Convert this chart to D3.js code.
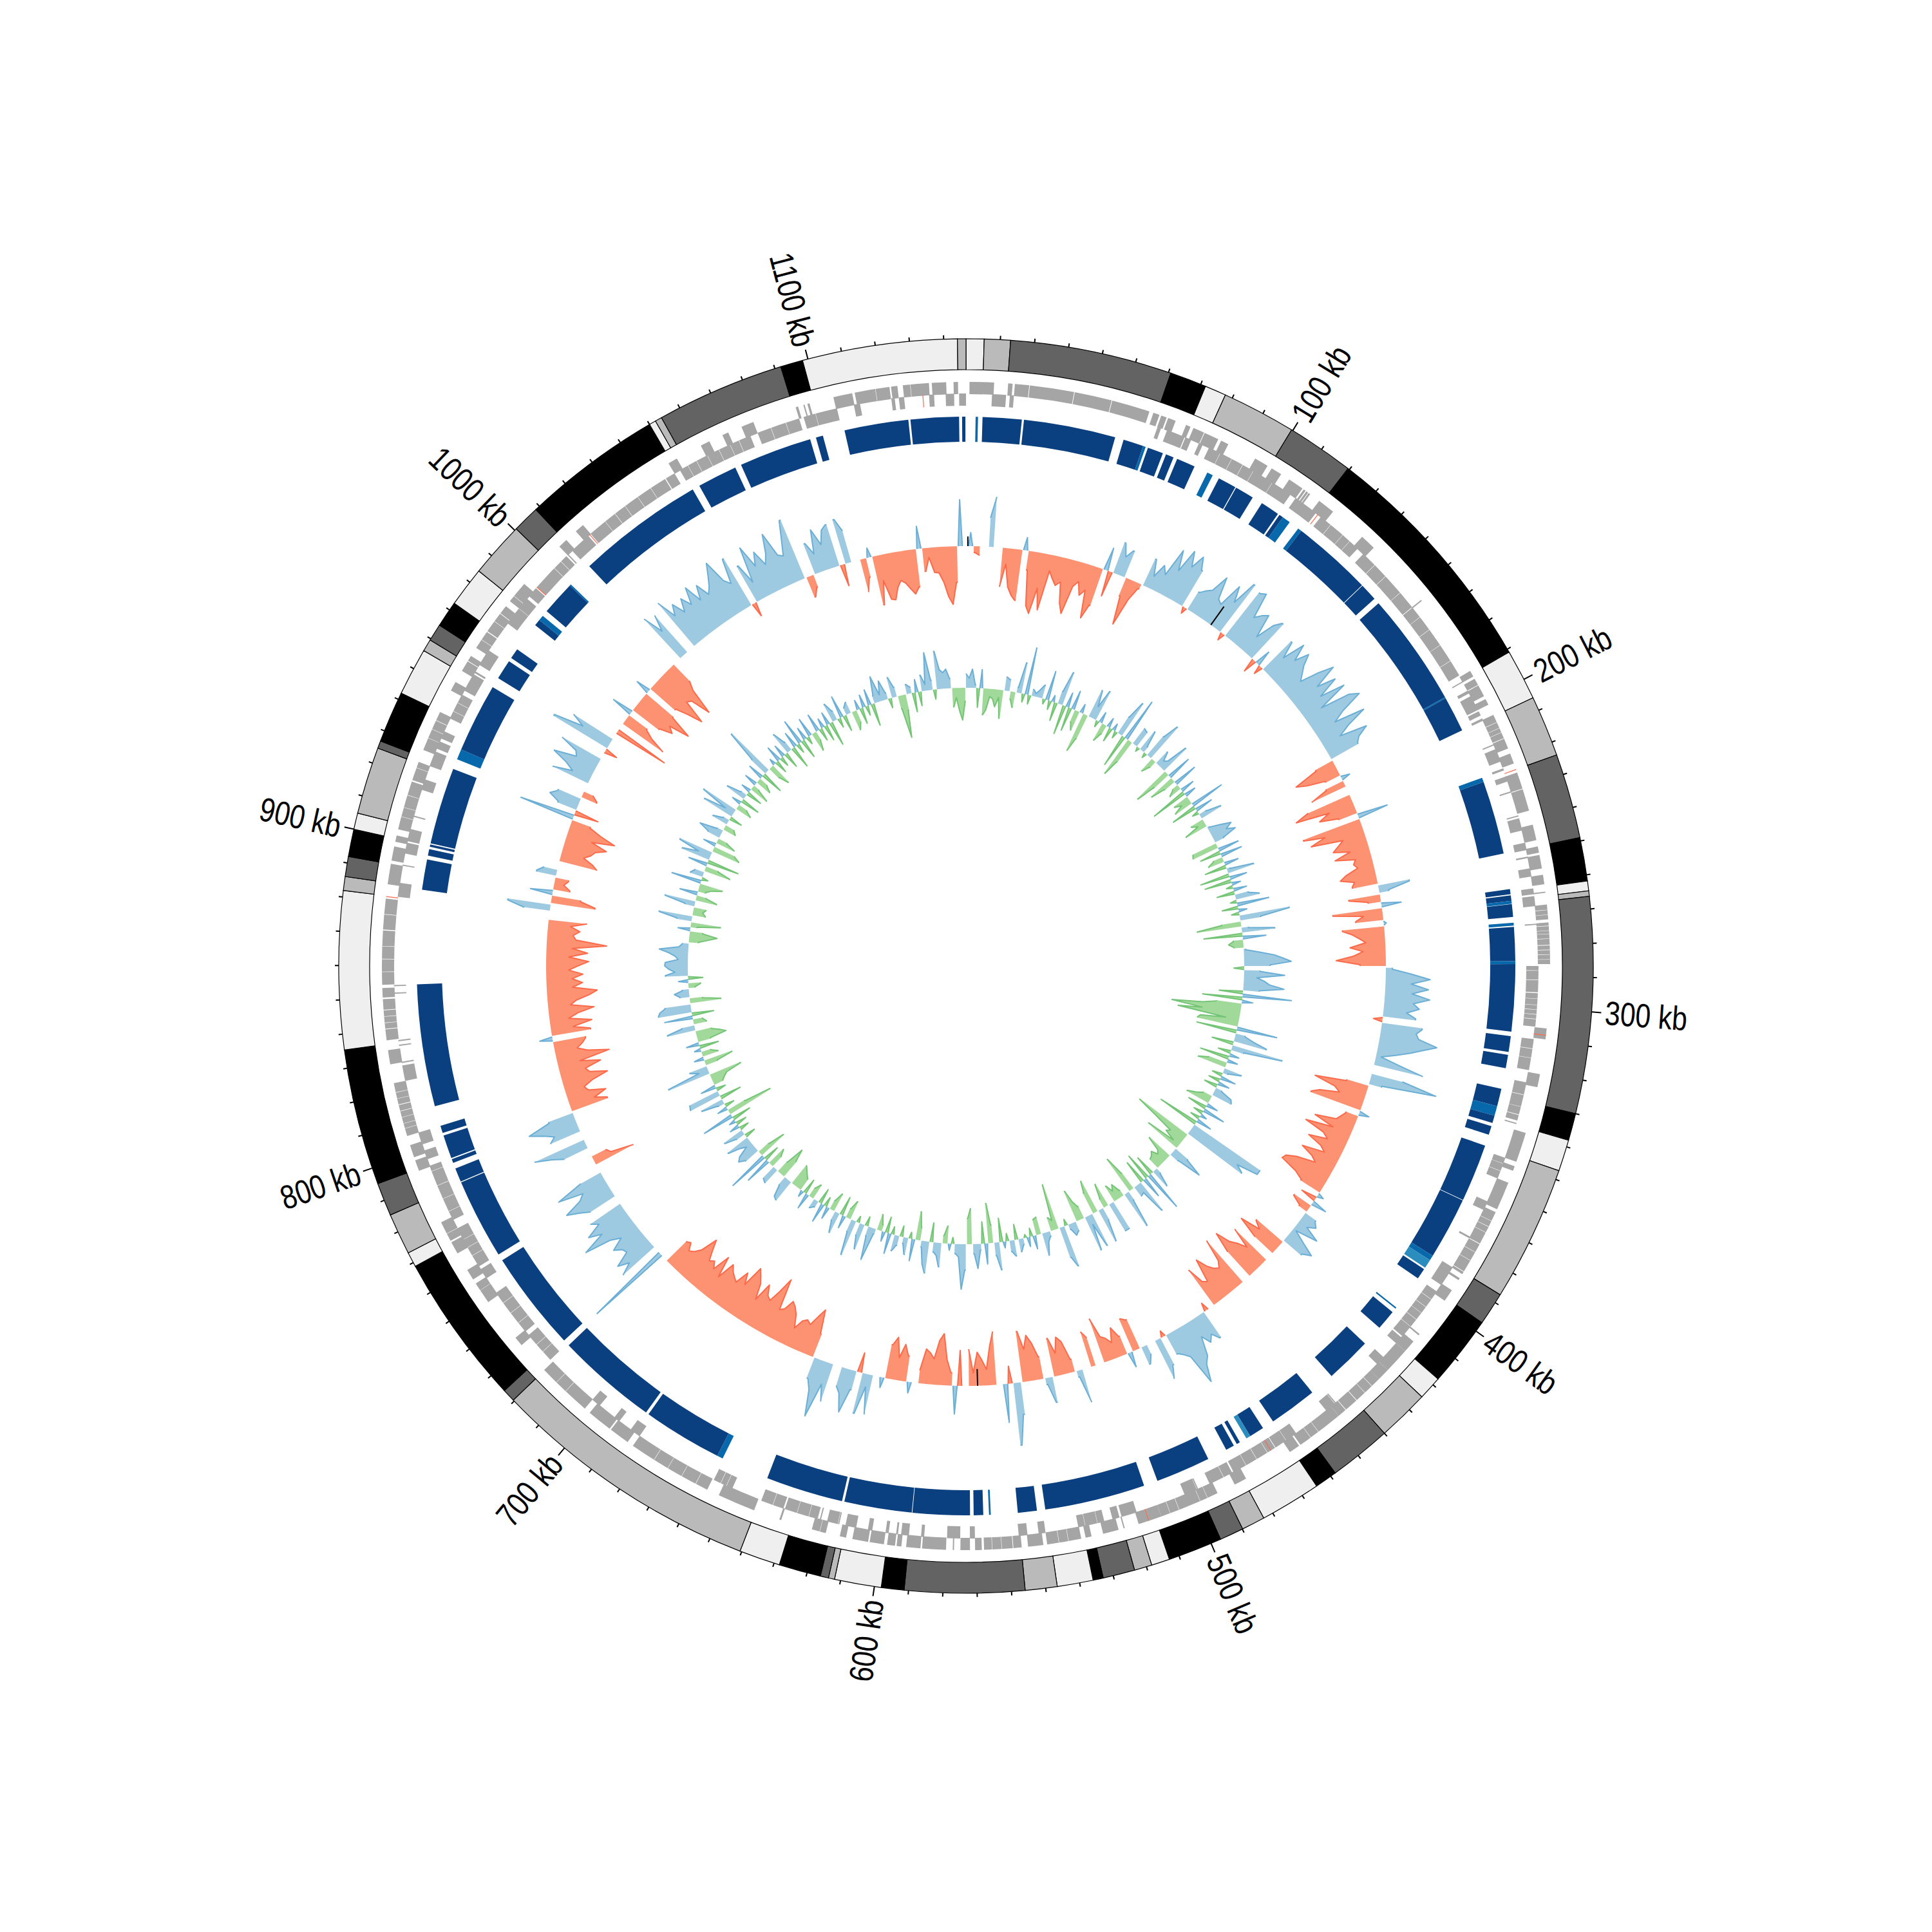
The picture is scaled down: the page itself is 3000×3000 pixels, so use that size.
<!DOCTYPE html>
<html><head><meta charset="utf-8">
<style>html,body{margin:0;padding:0;background:#fff}svg{display:block}</style>
<script src="https://cdn.jsdelivr.net/npm/d3@7"></script>
</head><body>
<script>
const genomeKb = 1146.5;
const tickLabels = [100,200,300,400,500,600,700,800,900,1000,1100];
const bandEnds = [5.3,13,60.7,71.5,77.8,99.6,119.5,191,206,224,249,261.8,264.7,266.3,330,338,347.3,387.3,397,417.8,424.8,440,458.4,465,483,489.9,497,513,518.4,523.6,533,536,546.6,556,591.3,598,611.8,613.6,616,628.4,640.5,720.4,724.2,768.8,773.2,785.4,795.2,835.4,881.9,886,891.9,900,904.8,924.6,926.8,942,956,959.6,964.7,972.4,984.2,1000.6,1008.6,1050,1052,1054,1091.8,1098.4,1144,1146.5];
const bandShades = ["#efefef","#bababa","#636363","#000000"];
const genesOuter = [[1.1,8.8],[13.2,14.6],[15.3,19.8],[20,34],[34.2,46],[46.2,58.3],[59.6,61.6],[62.2,64],[64.5,67],[70.5,72],[73,76.6],[76.8,81.5],[82.5,85],[94.5,99],[100.5,104],[107,112],[112.5,113.2],[113.5,114.2],[114.4,115],[118.5,124],[136,141],[163,163.4],[190,192],[192.8,195],[195.2,199],[200,202],[205.5,213.5],[213.7,217],[218.7,222],[225,230.3],[230.5,237.5],[242,247],[249,251],[251.7,256],[258,261],[263.3,263.7],[267.4,272],[273,280],[280.2,286],[306.2,309.6],[320.6,324.8],[339.5,349],[350.5,352],[356,365],[366,377],[377.2,387],[387.2,388],[389.5,390.2],[394,398],[411,411.5],[414,418],[418,426],[426,430],[430,439.5],[439.7,444],[444.2,447],[447,462],[462.5,466],[482,486],[492,495.4],[495.5,497.9],[498,511],[511,515],[515,518.5],[523,523.4],[525,530],[533.7,535.6],[537,547.8],[549,553.8],[555.8,558.4],[558.6,567.6],[568.3,570.4],[572,575],[577,577.4],[579.5,587],[587.5,592],[593.5,595],[595.5,598],[599,603.5],[604,609],[611,613],[617.5,619.4],[619.5,622],[632,632.6],[641,653],[657,684],[686,692.5],[693,701],[703,720.5],[731,734],[748,752.4],[752.5,755],[756.5,760],[766,770],[770.5,773],[773.1,777],[794.5,798],[799,803],[806,808.4],[808.5,816],[816.2,823],[829,833.5],[836.6,840],[840.2,846],[846.2,849.5],[850,853],[854,871],[871.3,881],[885.5,892],[893,897.5],[899,901],[903,918.5],[919,923],[923.1,925],[929,933],[933.1,942],[949.5,952.5],[956.5,960],[960.2,962],[965,971],[971.3,978],[978.2,981],[983,985],[985.1,990],[1006,1009],[1013,1016],[1049,1052],[1060.5,1063.5],[1068,1070],[1074.5,1078.5],[1092.5,1093.3],[1095,1095.4],[1096.3,1097],[1104.7,1110.7],[1111.5,1122.5],[1123,1125],[1126.7,1134.9],[1135.8,1140.3],[1142.6,1144]];
const genesInner = [[8.3,12.8],[14,15.3],[62.3,63.5],[65.5,71.5],[71.8,73.8],[76.5,77.8],[80,83.9],[84,95.9],[96,103],[103.1,110],[112,120],[122,137.5],[140,163],[163.2,189.5],[191.6,192],[195,196],[197,202],[202.5,204],[205,205.8],[214,214.4],[215.7,220],[222.3,223],[225,226.7],[230,230.4],[238,238.4],[239,243],[247,249.4],[251.5,252],[255.3,258],[261.8,263.7],[264.3,267.5],[273.1,273.5],[286.6,295],[295.3,306],[310,320],[324,331.9],[332,334.5],[334.7,336.5],[337.3,337.7],[349,350.9],[351,353.4],[353.5,356],[364,367],[376.5,377.1],[387.8,394.5],[397,405.4],[405.5,410.9],[411,415],[415.5,418],[424,427],[445,445.4],[445.5,449],[461,464.9],[465,469],[469.2,479.9],[480,484.5],[485,493],[497,497.4],[497.5,501.7],[518,523],[523.7,526],[528.7,530.9],[531,534.9],[535,537.2],[547.8,550],[553.6,556.4],[570.4,572],[575.1,579.3],[586.6,587.6],[591.5,594],[595,595.6],[598,599],[603.3,604.7],[608.5,612],[614,614.4],[614.5,618],[620,620.4],[621,627.9],[628,632],[632.5,640],[650,656.5],[684,687.5],[692,694],[700,703],[721.5,732],[733.5,749],[754.5,758],[759,768.9],[769,773],[776,783.4],[783.5,792.9],[793,794.8],[797,800],[802,806],[823,828],[828.8,829.2],[834.3,834.7],[835.8,836.2],[851,851.4],[853.4,853.8],[882,886.5],[892,892.4],[896,899.5],[900,904],[908,908.4],[917,920.5],[925,930],[931,933.5],[934.5,937],[941.5,950],[951.5,957.5],[958,958.6],[961,966.5],[977,982.9],[983,987],[988,991.4],[991.9,1005.5],[1006,1006.4],[1008,1015],[1016,1045.5],[1045.8,1049],[1051,1053.9],[1054,1060.9],[1061,1068.9],[1069,1076],[1078.5,1092.5],[1094,1097.9],[1098,1105],[1110.5,1112.5],[1122.6,1123.7],[1125,1126.7],[1134.7,1136.3],[1140,1142.7],[1144.3,1146.5]];
const rnaInner = [120.7,470.6,991.7,1015.5,1132.6];
const rnaOuter = [223.9,308.2,515,881.5];
const geneLinesOuter = [208,210,211.5,269,270.5,274,275.5,276.5,278,281.5,283,284.5,313,369,371,373,380,383,433,436,455,458,505,508,541,544,562,565,661,666,671,676,711,715,810,812,814,818,820,842,844,858,862,866,876,907,910,914,936,939,968,975,1118,1129];
const geneLinesInner = [88,92,126,131,134,145,150,157,167,172,178,184,288,291,297,299,300.5,302,303.5,313,316,328,400,403,408,472,476,488,621,624,636,652,654,725,728,737,741,745,763,766,779,788,944,947,1000,1003,1022,1026,1030,1035,1040,1057,1065,1072,1083,1088];
const blueSegments = [[1128,1144.2,0],[1145.2,1146.3,0],[3.2,4,1],[5.5,18.6,0],[19.3,50.2,0],[53.1,59.9,0],[59.9,60.8,1],[61.6,66.9,0],[68,70.7,0],[72,78.3,0],[83,85,1],[87.3,93.5,0],[93.8,100.2,0],[103.8,110.2,0],[110.8,112.2,0],[112.2,115,1],[118.5,119.8,1],[119.8,146.9,0],[147.1,153,0],[155,193.3,0],[193.3,193.7,1],[193.7,205.7,0],[222.8,224.3,1],[224.3,249,0],[261,262.7,0],[263.1,264.9,0],[264.9,265.9,1],[266,270.3,0],[272.2,273.2,1],[273.6,285,0],[285,286,1],[286,308.5,0],[310,315.3,0],[316.3,320.8,0],[327.8,333.7,0],[333.7,337,1],[337,339.5,0],[340.6,343.6,0],[347.4,366.9,0],[367.1,388,0],[388,389.7,1],[389.7,392.7,2],[393.3,397,0],[409,409.5,1],[411,417.8,0],[424.9,440.4,0],[448.8,465,0],[469,474,0],[474,475.5,2],[478,479.2,0],[480.3,483.2,0],[489.9,508.3,0],[513,546.8,0],[549.6,556,0],[565,565.6,1],[567.5,570.7,0],[571.9,591.1,0],[591.3,614,0],[614.8,640.8,0],[657,659,1],[659,685.7,0],[686.7,720.8,0],[723,756.7,0],[759,786,0],[786.3,791,0],[793,794.3,0],[794.7,802.6,0],[803.5,806,0],[812.8,853.8,0],[885.3,895.5,0],[896.8,899,0],[899.8,900.6,0],[901,926.8,0],[930.3,933.8,1],[933.8,957,0],[960.5,967.2,0],[968.5,972,0],[982,984.2,0],[984.2,986,1],[988,999.5,0],[999.5,1000,1],[1008.6,1051.5,0],[1054,1067.4,0],[1069.5,1094,0],[1096,1098.4,0],[1105.8,1127.3,0]];
const blueShades = ["#0a3f80","#0868ac","#2b8cbe"];
// Outer wiggle track: one row per 100 kb, one value every 2 kb, 0 = no mark.
const skewRows = [
[0,21,-10,-14,0,45,78,0,-61,-25,-60,-72,-79,20,-30,-85,-96,-55,-88,-25,-36,-45,-38,-70,-85,-40,-30,-50,-40,-83,-60,36,-40,50,30,43,-30,-74,-30,-8,45,20,42,30,76,45,83,60,82,63],
[-10,32,40,46,74,40,35,74,50,90,-12,85,90,50,60,67,30,60,72,-22,25,-14,61,35,71,45,67,50,40,30,60,83,45,74,40,79,30,77,91,55,35,83,50,30,73,55,48,-30,-69,-53],
[-25,14,-30,-58,0,-70,-93,-40,-59,-30,48,-93,-60,-85,-35,-45,-55,-30,-56,-25,-30,-25,-45,-56,-35,-40,49,15,-49,-20,31,-77,-30,-43,4,-65,-50,-40,-30,-55,-35,-50,-77,-40,10,40,69,40,67,42],
[70,45,55,36,51,-14,63,55,60,90,70,51,30,8,40,78,0,49,105,20,-35,-84,-50,-40,-70,-82,16,-20,-25,-30,-63,-30,-73,-40,-30,-59,-35,-25,-60,-40,-30,-60,-75,-78,-50,-35,10,-25,24,-31],
[-15,20,27,15,40,5,25,48,35,-53,-40,-72,-37,0,-68,-35,-50,-60,-83,-50,0,-85,-50,-40,-45,-55,-72,-35,-40,-67,0,-13,47,35,45,30,60,70,97,48,40,34,-10,46,66,0,15,29,-49,-54],
[24,-30,-47,-25,-35,-40,-72,0,-45,-57,0,53,10,-20,-50,-59,-35,-60,40,10,-35,-58,-71,-50,-79,50,97,-27,60,0,-83,-60,-25,-40,-52,-20,-57,0,-55,44,-20,-40,-80,-69,-40,-49,-54,-20,0,17],
[-40,-57,-35,-66,-53,16,0,62,20,64,-31,30,68,40,30,0,61,35,90,50,34,-38,-75,-61,-45,-50,-45,-30,-50,-60,-66,-50,-45,-94,-70,-50,-55,-70,-40,-65,-75,-84,-50,-67,-45,-50,-55,-64,-35,-68],
[-40,-50,-45,-60,-76,-50,-40,-35,-46,-42,0,135,0,65,45,62,37,40,51,30,45,87,50,70,45,56,0,45,60,79,50,40,79,35,0,-66,-30,-24,0,40,58,84,0,50,40,55,76,40,-59,-40],
[-61,-35,-30,-45,-72,-45,-40,-66,-35,-83,-50,-35,-45,-51,20,-61,-35,-65,-30,-45,-71,-35,-45,-65,-78,-40,-56,-40,-57,-35,-50,-66,-35,-64,-40,-93,-45,-40,-50,-35,-60,0,40,67,-69,-45,35,-26,-15,-21],
[31,21,0,-60,-51,-35,-45,-50,-66,-40,-75,-50,-30,87,-38,31,48,38,-25,-15,0,61,30,45,70,35,40,69,0,-20,97,50,72,0,-87,0,-76,-50,-35,34,-50,-70,-60,-92,-55,23,-50,-70,-93,-55],
[-60,-91,-50,-35,0,83,50,76,0,87,55,71,50,70,53,79,50,72,50,60,75,92,55,45,84,-22,63,30,86,50,70,45,60,89,50,45,70,98,-33,-20,50,30,67,40,61,67,-34,71,50,0],
[-52,-30,15,-77,-40,-71,-73,-55,-45,-50,-60,-69,-59,35,-36,-15,-39,-40,-55,-78,-90,-56,72,0]
];
// Inner wiggle track: same layout.
const gcRows = [
[22,15,29,5,-30,29,-41,-33,-12,-15,-27,-12,-44,21,18,-12,-24,8,48,-13,74,-14,10,5,12,21,-8,46,-14,10,-29,20,53,-46,23,-37,30,-20,-31,14,-62,-40,45,20,49,-10,17,-29,-15,15],
[-22,11,-11,30,59,-52,69,-63,-38,29,27,-7,35,10,-8,38,63,-24,-12,24,10,15,48,-60,-30,39,-42,-20,38,-10,-20,22,-58,18,-25,-15,-30,54,-40,28,-10,12,35,-21,-12,-36,3,20,36,25],
[38,15,-40,-42,33,-33,34,-15,-25,22,-34,5,42,-46,27,-42,14,-10,21,-28,21,37,-10,50,-25,13,-12,78,32,-30,-69,11,51,-60,36,-15,-23,-15,3,25,47,60,73,40,-16,25,63,20,32,40],
[63,25,-37,76,-62,17,-40,-60,-108,-60,-97,-21,-60,-64,63,-63,15,30,52,-34,80,20,-20,15,-46,16,-30,-45,28,8,-16,24,-18,18,-21,10,29,32,-15,-25,-38,18,-30,35,-15,10,-15,24,-65,124],
[124,90,103,-92,-60,-25,-30,-12,-58,25,54,15,-42,-20,-15,-25,-20,-18,9,30,-32,64,-43,33,-37,54,15,17,-30,-60,15,59,-10,-24,-15,-27,48,48,-38,-15,20,54,-53,-35,54,15,56,-20,-30,-50],
[15,20,8,-10,65,49,-72,-15,-21,8,15,35,-27,-25,21,-13,15,-5,10,20,-24,25,17,-12,10,-37,43,20,-28,-62,32,-34,10,38,15,-55,-40,40,70,20,15,-10,10,-27,-12,37,20,15,-30,49],
[36,10,-20,-44,34,-10,26,10,-17,15,25,-12,32,-25,15,-10,-25,8,52,15,-15,40,20,-10,56,20,-29,-15,20,-30,33,15,-29,-15,19,-15,30,-24,10,15,-24,-15,25,-24,10,-20,-25,-30,-35,36],
[33,15,-30,-49,-20,27,24,-20,-30,42,-25,65,-46,-20,25,34,28,10,20,38,-17,15,33,-15,15,-17,10,-30,50,-73,-30,16,-15,10,36,-34,51,49,-15,24,-15,-20,-26,-51,68,15,28,-19,-45,15],
[-25,-15,10,-30,20,-20,-46,-37,-25,44,20,-20,-15,44,-34,52,49,40,-48,-20,15,23,10,-10,-19,15,-23,35,20,30,36,35,15,20,30,45,15,10,-15,-30,-43,-20,19,-10,-46,23,52,-20,-15,-19],
[15,48,-33,-15,28,-12,-20,-36,47,-10,20,15,-41,-20,30,-50,45,20,54,-44,-35,20,-30,-15,20,37,10,-20,-15,25,10,-20,50,15,59,-25,-15,15,-30,32,10,-25,15,-30,-10,20,-25,-15,25,-35],
[30,80,-20,-35,10,-20,25,-15,20,-25,35,15,-35,25,-15,40,-30,20,-12,30,-30,-15,28,-20,15,-25,20,-38,30,15,-15,35,-25,12,18,-30,-20,15,-25,20,-15,25,-35,12,41,10,31,10,-15,32],
[15,-20,-67,-25,15,10,-30,20,-22,25,10,59,15,-15,59,30,25,30,15,-29,-15,-36,-50,-20]
];
const markKb = [0.8,113.6,568.2];
const markValue = [15,35,-26];
const positiveColors = {fill:"#9ecae1",line:"#6baed6"};
const negativeSkew = {fill:"#fc9272",line:"#fb6a4a"};
const negativeGc = {fill:"#a1d99b",line:"#74c476"};

const angle = d3.scaleLinear().domain([0,genomeKb]).range([0,2*Math.PI]);
const skewR = d3.scaleLinear().domain([-100,140]).range([552,792]);
const gcR = d3.scaleLinear().domain([-110,130]).range([322,562]);

const svg = d3.select("body").append("svg").attr("width",3000).attr("height",3000).attr("viewBox","0 0 3000 3000");
svg.append("rect").attr("width",3000).attr("height",3000).attr("fill","#fff");
const g = svg.append("g").attr("transform","translate(1500,1500)");

const arc = d3.arc();
g.append("g").selectAll("path").data(bandEnds).join("path")
  .attr("d",(e,i)=>arc({innerRadius:926,outerRadius:974,startAngle:angle(i?bandEnds[i-1]:0),endAngle:angle(e)}))
  .attr("fill",(e,i)=>bandShades[i%bandShades.length])
  .attr("stroke","#000").attr("stroke-width",1.2);

const radial = d3.lineRadial();
const ticks = d3.range(10,genomeKb-3,10);
g.append("g").selectAll("path").data(ticks).join("path")
  .attr("d",k=>radial([[angle(k),974],[angle(k),k%100===0?989:980]]))
  .attr("stroke","#000").attr("stroke-width",2).attr("fill","none");

g.append("g").selectAll("text").data(tickLabels).join("text")
  .text(k=>k+" kb")
  .attr("transform",k=>{
    const a=angle(k)*180/Math.PI;
    return a<180?`rotate(${a-90}) translate(995,0) scale(0.82,1)`:`rotate(${a-90}) translate(995,0) rotate(180) scale(0.82,1)`;
  })
  .attr("text-anchor",k=>angle(k)<Math.PI?"start":"end")
  .attr("dominant-baseline","central")
  .attr("font-family","'Liberation Sans',sans-serif")
  .attr("font-size",52).attr("fill","#000");

function lane(data,r0,r1,color){
  g.append("g").selectAll("path").data(data).join("path")
   .attr("d",d=>arc({innerRadius:r0,outerRadius:r1,startAngle:angle(d[0]),endAngle:angle(d[1])}))
   .attr("fill",color);
}
lane(genesOuter,888,907,"#a5a5a5");
lane(genesInner,870,889,"#a5a5a5");
lane(geneLinesOuter.map(k=>[k,k+0.12]),888,907,"#ffffff");
lane(geneLinesInner.map(k=>[k,k+0.12]),870,889,"#ffffff");
lane(rnaOuter.map(k=>[k,k+0.25]),888,907,"#fb6a4a");
lane(rnaInner.map(k=>[k,k+0.25]),870,889,"#fb6a4a");

g.append("g").selectAll("path").data(blueSegments).join("path")
  .attr("d",d=>arc({innerRadius:814,outerRadius:853,startAngle:angle(d[0]),endAngle:angle(d[1])}))
  .attr("fill",d=>blueShades[d[2]]);

function track(rows,rScale,posC,negC){
  const pts = rows.flatMap((row,k)=>row.map((v,i)=>({kb:k*100+i*2,v})));
  const runs=[]; let cur=null;
  pts.forEach((p,idx)=>{
    const s=Math.sign(p.v);
    if(s===0){cur=null;return;}
    if(!cur||cur.s!==s){cur={s,pts:[],first:idx};runs.push(cur);}
    cur.pts.push(p); cur.last=idx;
  });
  const area=d3.areaRadial().angle(d=>angle(d.kb)).innerRadius(rScale(0)).outerRadius(d=>rScale(d.v));
  const line=d3.lineRadial().angle(d=>angle(d.kb)).radius(d=>rScale(d.v));
  const shapes=runs.map(r=>{
    const c=r.s>0?posC:negC;
    let p;
    if(r.pts.length===1){
      p=[{kb:r.pts[0].kb-0.9,v:0},r.pts[0],{kb:r.pts[0].kb+0.9,v:0}];
    } else {
      p=r.pts.slice();
      // a neighbouring value of the other sign only leaves a narrow slit
      if(r.first>0&&pts[r.first-1].v!==0) p.unshift({kb:p[0].kb-0.6,v:p[0].v});
      if(r.last<pts.length-1&&pts[r.last+1].v!==0) p.push({kb:p[p.length-1].kb+0.6,v:p[p.length-1].v});
    }
    return {p,c,s:r.s};
  }).sort((a,b)=>b.s-a.s);
  const tg=g.append("g");
  shapes.forEach(s=>{
    tg.append("path").attr("d",area(s.p)).attr("fill",s.c.fill);
    tg.append("path").attr("d",line(s.p)).attr("fill","none").attr("stroke",s.c.line)
      .attr("stroke-width",2).attr("stroke-linejoin","round");
  });
}
track(skewRows,skewR,positiveColors,negativeSkew);
track(gcRows,gcR,positiveColors,negativeGc);

g.append("g").selectAll("path").data(markKb).join("path")
  .attr("d",(k,i)=>radial([[angle(k),skewR(0)],[angle(k),skewR(markValue[i])]]))
  .attr("stroke","#000").attr("stroke-width",2).attr("fill","none");
</script>
</body></html>
